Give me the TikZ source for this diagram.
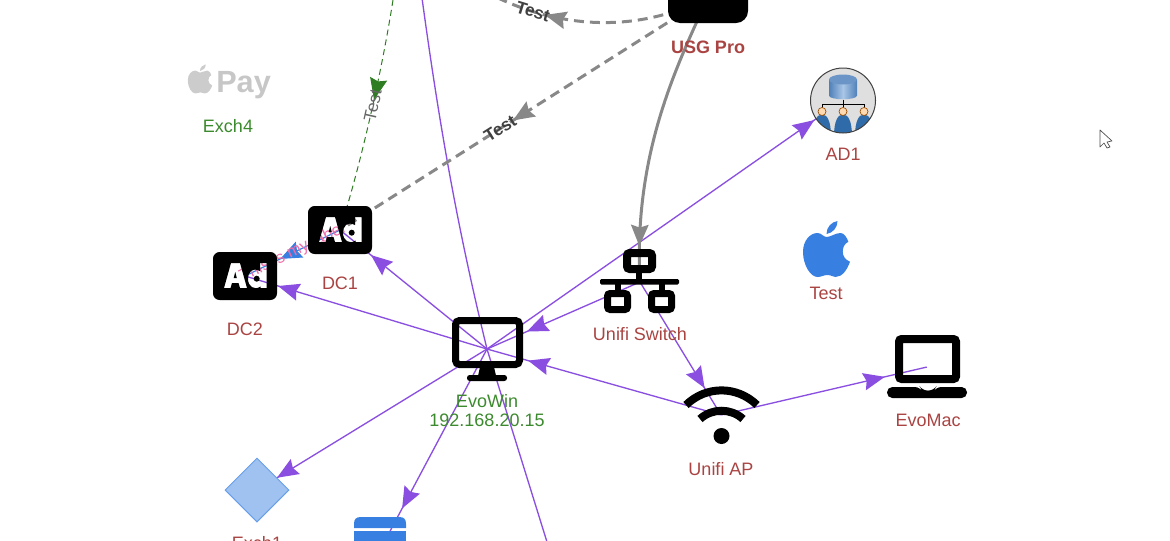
\documentclass[tikz,border=0pt]{standalone}
\usepackage{fontspec}
\setmainfont{Liberation Sans}
\usepackage{xcolor}
\usetikzlibrary{shapes,positioning,calc,backgrounds,decorations.markings,arrows.meta}

\definecolor{linkpurple}{HTML}{8A4FE0}
\definecolor{linkgrey}{HTML}{888888}
\definecolor{linkgreen}{HTML}{2E7D22}
\definecolor{iconblue}{HTML}{377FE0}
\definecolor{labelred}{HTML}{A94442}
\definecolor{labelgreen}{HTML}{3C8A2E}
\definecolor{dbdark}{HTML}{4F80B8}
\definecolor{dblight}{HTML}{A9C6E6}
\definecolor{dbbody}{HTML}{2F6BA8}
\definecolor{labelpink}{HTML}{F06CA8}

\tikzset{
  devspot/.style={inner sep=0pt,minimum size=0pt},
  devlabel/.style={inner sep=0pt,font=\fontsize{13.5}{16}\selectfont,text=labelred,align=center},
  greenlabel/.style={devlabel,text=labelgreen},
  marktip/.style n args={2}{postaction={decorate},decoration={markings,
    mark=at position #1 with {\arrow{Stealth[length=16pt,width=13pt,inset=2pt,#2]}}}},
  purplelink/.style={draw=linkpurple,line width=1pt,marktip={#1}{linkpurple}},
  greylink/.style={draw=linkgrey,line width=2.25pt,marktip={#1}{linkgrey}},
  testlabel/.style={inner sep=0pt,font=\fontsize{13}{15}\selectfont\bfseries,text=black!75},
  apple/.pic={
    \fill (0,-18) .. controls (4,-18) and (9,-22) .. (14,-22)
      .. controls (18,-22) and (20.5,-17) .. (21.8,-13.3)
      .. controls (17.5,-11) and (16.2,-7) .. (16.2,-3.3)
      .. controls (16.2,1) and (19,5) .. (23.5,6.7)
      .. controls (21,14) and (16,22) .. (9,22)
      .. controls (6,22) and (5,20) .. (1,20)
      .. controls (-3,20) and (-5,22) .. (-9,22)
      .. controls (-16,22) and (-23.5,10) .. (-23.5,-3)
      .. controls (-23.5,-15) and (-16,-22) .. (-9,-22)
      .. controls (-5,-22) and (-3,-18) .. (0,-18) -- cycle;
    \fill (0,-21) .. controls (0,-28) and (5,-33) .. (11,-34)
      .. controls (11,-27) and (6,-22) .. (0,-21) -- cycle;
  },
  adicon/.pic={
    \fill[even odd rule,black] [rounded corners=5pt] (-32,-24) rectangle (32,24)
      [sharp corners]
      (-14,-13) -- (-5,-13) -- (2,12) -- (-5,12) -- (-6.5,7) -- (-13,7) -- (-14.5,12) -- (-21,12) -- cycle
      (-9.75,-4) -- (-8.2,2) -- (-11.3,2) -- cycle
      (15,-5) .. controls (7,-9) and (3,-4) .. (3,3) .. controls (3,10) and (9,15) .. (15.5,10.5)
      -- (15.5,12) -- (21.5,12) -- (21.5,-13) -- (15,-13) -- cycle
      (11.7,2.7) circle (3);
  },
}

\begin{document}
\begin{tikzpicture}[x=0.75pt,y=-0.75pt]
\useasboundingbox (0,0) rectangle (1170,540);

% anchors of the devices
\node[devspot] (usg) at (708,-3) {};
\node[devspot] (evowin) at (487,349) {};
\node[devspot] (switch) at (640,282) {};
\node[devspot] (wifi) at (721,415) {};
\node[devspot] (evomac) at (927,367) {};
\node[devspot] (ad1) at (843,100) {};
\node[devspot] (dc1) at (340,230) {};
\node[devspot] (dc2) at (245,276) {};
\node[devspot] (storage) at (380,550) {};
\node[diamond,draw=iconblue!75,fill=iconblue!48,line width=0.75pt,inner sep=0pt,minimum width=48pt,minimum height=48pt] (exch1) at (257,490) {};
\coordinate (topa) at (422,-2);
\coordinate (topb) at (393,0);
\coordinate (topc) at (490,-6);
\coordinate (bottoma) at (547,542);

% connectors sit under the icons
\begin{scope}[on background layer]
\draw[purplelink={0.92}] (evowin) -- (ad1);
\draw[purplelink={0.74}] (switch) -- (evowin);
\draw[purplelink={0.825}] (wifi) -- (evowin);
\draw[purplelink={0.80}] (switch) -- (wifi);
\draw[purplelink={0.796}] (wifi) -- (evomac);
\draw[purplelink={0.79}] (evowin) -- (dc1);
\draw[purplelink={0.864}] (evowin) -- (dc2);
\draw[purplelink={0.913}] (evowin) -- (exch1.center);
\draw[purplelink={0.794}] (evowin) -- (storage);
\draw[draw=linkpurple,line width=1pt] (evowin) .. controls (458,230) and (440,130) .. (topa);
\draw[draw=linkpurple,line width=1pt] (evowin) -- (bottoma);
\draw[draw=iconblue,line width=0.9pt,marktip={0.63}{iconblue}] (dc1) -- (dc2)
  node[pos=0.5,sloped,inner sep=0pt,font=\fontsize{12.5}{15}\selectfont,text=labelpink] (pinklabel) {This is my label};
\draw[greylink={0.88}] (usg) .. controls (680,60) and (633,150) .. (switch);
\end{scope}
\draw[greylink={0.53},dash pattern=on 7.5pt off 4.5pt] (usg) -- (dc1)
  node[pos=0.565,sloped,testlabel] (testb) {Test};
\draw[greylink={0.74},dash pattern=on 7.5pt off 4.5pt] (usg) .. controls (640,33) and (560,30) .. (topc)
  node[pos=0.8,sloped,testlabel] (testa) {Test};
\draw[draw=linkgreen,line width=0.75pt,dash pattern=on 4.5pt off 3pt,marktip={0.43}{linkgreen}] (topb) .. controls (382,70) and (362,160) .. (dc1)
  node[pos=0.46,sloped,inner sep=0pt,font=\fontsize{13}{15}\selectfont,text=black!60] (testc) {Test};

% USG Pro
\fill[black,rounded corners=9pt] (668,-40) rectangle (748,23);
\node[devlabel,font=\fontsize{13.5}{16}\selectfont\bfseries] (usglabel) at (708,47) {USG Pro};

% monitor
\draw[black,line width=5.25pt,rounded corners=3pt] (455.5,320.5) rectangle (519.5,364.5);
\fill[black] (480,367) -- (494,367) -- (496,376) -- (478,376) -- cycle;
\fill[black,rounded corners=2pt] (467,375) rectangle (507,381);
\node[greenlabel] (evowinlabel) at (487,410.5) {EvoWin\\[-1.75pt]192.168.20.15};

% switch
\draw[black,line width=6pt,rounded corners=2pt] (627,253) rectangle (652,269);
\draw[black,line width=5.25pt,rounded corners=2pt] (607.5,293.5) rectangle (627.5,309.5);
\draw[black,line width=5.25pt,rounded corners=2pt] (651.5,293.5) rectangle (671.5,309.5);
\fill[black,rounded corners=1pt] (600,279) rectangle (679,284.5);
\draw[black,line width=4pt] (639,272) -- (639,280) (618,284) -- (618,291) (662,284) -- (662,291);
\node[devlabel] (switchlabel) at (640,334) {Unifi Switch};

% wifi
\fill[black] (721.5,436) circle (8);
\draw[black,line width=6pt] (700,419) .. controls (712,408) and (731,408) .. (743,419);
\draw[black,line width=6pt] (686,405) .. controls (706,385.5) and (737,385.5) .. (757,405);
\node[devlabel] (wifilabel) at (721,469) {Unifi AP};

% laptop
\draw[black,line width=6pt,rounded corners=2pt] (899,339) rectangle (956,379);
\fill[black,rounded corners=4pt] (887,387) -- (920,387) -- (922,390.5) -- (934,390.5) -- (936,387) -- (967,387) -- (967,398) -- (887,398) -- cycle;
\node[devlabel] (evomaclabel) at (928,420) {EvoMac};

% directory server
\begin{scope}[shift={(843,100.5)}]
\fill[gray!25] (0,0) circle (32.5);
\begin{scope}
\clip (0,0) circle (32.5);
\foreach \px in {-21,0,21} {
  \fill[dbbody] (\px-9,36) .. controls (\px-9,20) and (\px-5,14) .. (\px,14) .. controls (\px+5,14) and (\px+9,20) .. (\px+9,36) -- cycle;
}
\end{scope}
\shade[left color=dbdark,right color=dbdark,middle color=dblight] (-14,-21) -- (14,-21) -- (14,-5) .. controls (14,0) and (-14,0) .. (-14,-5) -- cycle;
\fill[dbdark!70!dblight] (0,-21) ellipse (14 and 5);
\draw[black,line width=0.75pt] (-21,10) -- (-21,4) -- (21,4) -- (21,10) (0,-1) -- (0,10);
\foreach \px in {-21,0,21} {
  \fill[orange!30!white,draw=orange!60!black,line width=0.5pt] (\px,11) circle (4);
}
\draw[black!75,line width=0.75pt] (0,0) circle (32.5);
\end{scope}
\node[devlabel] (ad1label) at (843,154) {AD1};

% apple icons
\pic[iconblue] at (826.5,255) {apple};
\node[devlabel] (testlabelnode) at (826,293) {Test};
\pic[black!20,scale=0.52] at (200,82) {apple};
\node[inner sep=0pt,anchor=base west,font=\fontsize{23}{28}\selectfont\bfseries,text=black!22] (paytext) at (216,92) {Pay};
\node[greenlabel] (exch4label) at (228,126) {Exch4};

% domain controllers
\pic at (dc1) {adicon};
\pic at (dc2) {adicon};
\node[devlabel] (dc1label) at (340,283) {DC1};
\node[devlabel] (dc2label) at (245,329) {DC2};

% bottom row
\node[devlabel] (exch1label) at (257,543) {Exch1};
\fill[iconblue] (354,528) -- (354,524) .. controls (354,519) and (356,517) .. (361,517) -- (399,517) .. controls (404,517) and (406,519) .. (406,524) -- (406,528) -- cycle;
\fill[iconblue] (354,531) rectangle (406,545);

% pointer
\draw[black!70,fill=white,line width=0.5pt,line join=round] (1100,130) -- (1100,147) -- (1104,143) -- (1107,148) -- (1110,147) -- (1107,142) -- (1112,141) -- cycle;
\end{tikzpicture}
\end{document}
